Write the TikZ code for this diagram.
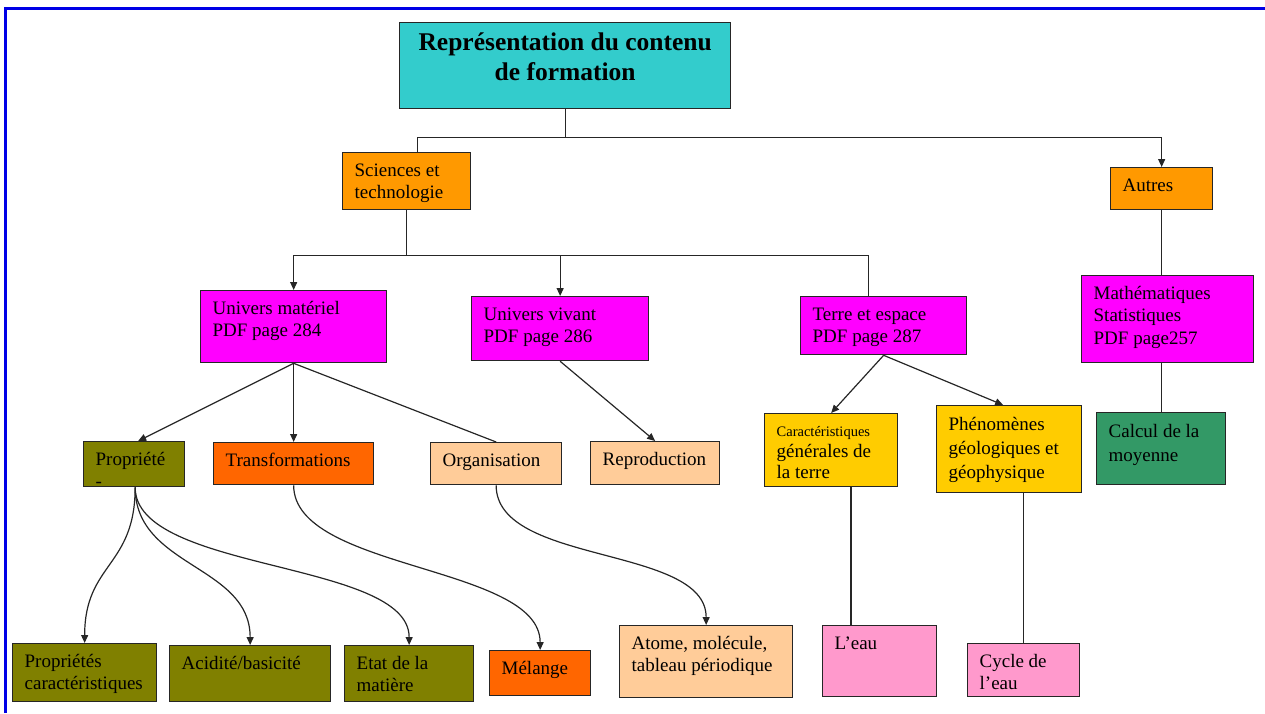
\documentclass[tikz,border=0pt]{standalone}
\usepackage{fontspec}
\setmainfont{Liberation Serif}
\usepackage{xcolor}
\usetikzlibrary{arrows.meta,positioning,calc}
\definecolor{frameblue}{HTML}{0000E6}
\definecolor{titlecyan}{HTML}{33CCCC}
\definecolor{boxorange}{HTML}{FF9900}
\definecolor{boxmagenta}{HTML}{FF00FF}
\definecolor{boxolive}{HTML}{808000}
\definecolor{boxred}{HTML}{FF6600}
\definecolor{boxpeach}{HTML}{FFCC99}
\definecolor{boxyellow}{HTML}{FFCC00}
\definecolor{boxgreen}{HTML}{339966}
\definecolor{boxpink}{HTML}{FF99CC}

\begin{document}
\begin{tikzpicture}[x=1pt,y=-1pt,
  cbox/.style n args={3}{draw=black!85,line width=1.3pt,fill=#1,anchor=north west,
    inner xsep=12pt,inner ysep=8pt,font=\fontsize{19}{22.5}\selectfont,
    execute at begin node={\begin{minipage}[t][\dimexpr#3pt-16pt\relax][t]{\dimexpr#2pt-24pt\relax}\raggedright\strut},
    execute at end node={\end{minipage}}},
  titlebox/.style n args={2}{draw=black!85,line width=1.3pt,fill=titlecyan,anchor=north west,
    inner xsep=6pt,inner ysep=7pt,font=\bfseries\fontsize{25.5}{30}\selectfont,
    execute at begin node={\begin{minipage}[t][\dimexpr#2pt-14pt\relax][t]{\dimexpr#1pt-12pt\relax}\centering\strut},
    execute at end node={\end{minipage}}},
  link/.style={line width=1.2pt,black!85},
  arr/.style={link,-{Triangle[length=8pt,width=7pt]}}
]
\useasboundingbox (0,0) rectangle (1265,713);
\draw[frameblue,line width=3pt] (5,713) -- (5,8) -- (1265,8);

%--- Title and first level ---
\node[titlebox={331}{86}] (title) at (399,22) {Représentation du contenu\\de formation};
\node[cbox={boxorange}{128}{57}] (sci) at (342,152) {Sciences et\\technologie};
\node[cbox={boxorange}{102}{42}] (autres) at (1110,167) {Autres};

%--- Second level ---
\node[cbox={boxmagenta}{186}{72}] (um) at (200,290) {Univers matériel\\PDF page 284};
\node[cbox={boxmagenta}{177}{64}] (uv) at (471,296) {Univers vivant\\PDF page 286};
\node[cbox={boxmagenta}{166}{58}] (terre) at (800,296) {Terre et espace\\PDF page 287};
\node[cbox={boxmagenta}{172}{87}] (math) at (1081,275) {Mathématiques\\Statistiques\\PDF page257};

%--- Third level ---
\node[cbox={boxolive}{101}{45}] (prop) at (83,441) {Propriété\\-};
\node[cbox={boxred}{160}{42}] (trans) at (213,442) {Transformations};
\node[cbox={boxpeach}{131}{42}] (org) at (430,442) {Organisation};
\node[cbox={boxpeach}{129}{43}] (repro) at (590,441) {Reproduction};
\node[cbox={boxyellow}{133}{73},font=\fontsize{19}{21}\selectfont] (caract) at (764,413)
  {{\fontsize{14.5}{16}\selectfont Caractéristiques}\\générales de\\la terre};
\node[cbox={boxyellow}{145}{87},font=\fontsize{19}{24}\selectfont] (phen) at (936,405)
  {Phénomènes\\géologiques et\\géophysique};
\node[cbox={boxgreen}{129}{72},font=\fontsize{19}{24}\selectfont] (calc) at (1096,412)
  {Calcul de la\\moyenne};

%--- Bottom level ---
\node[cbox={boxolive}{144}{58}] (pc) at (12,643) {Propriétés\\caractéristiques};
\node[cbox={boxolive}{161}{56}] (acid) at (169,645) {Acidité/basicité};
\node[cbox={boxolive}{129}{56}] (etat) at (344,645) {Etat de la\\matière};
\node[cbox={boxred}{101}{45}] (mel) at (489,650) {Mélange};
\node[cbox={boxpeach}{173}{72}] (atome) at (619,625) {Atome, molécule,\\tableau périodique};
\node[cbox={boxpink}{114}{71}] (eau) at (822,625) {L’eau};
\node[cbox={boxpink}{112}{53}] (cycle) at (967,643) {Cycle de\\l’eau};

%--- Connectors ---
\draw[link] (title.south) -- ++(0,28) coordinate (j1) -| ([xshift=11pt]sci.north);
\draw[arr] (j1) -| (autres.north);
\draw[link] (sci.south) -- ++(0,45) coordinate (j2);
\draw[arr] (j2) -| (um.north);
\draw[arr] (j2) -| (uv.north);
\draw[link] (j2) -| ([xshift=-15pt]terre.north);
\draw[link] (autres.south) -- (autres.south |- math.north);
\draw[link] (calc.north |- math.south) -- (calc.north);

\draw[arr] (um.south) -- ([xshift=4pt]prop.north);
\draw[arr] (um.south) -- (um.south |- trans.north);
\draw[link] (um.south) -- (org.north);
\draw[arr] (uv.south) -- (repro.north);
\draw[arr] (terre.south) -- (caract.north);
\draw[arr] (terre.south) -- ([xshift=-6pt]phen.north);
\draw[link] (caract.south -| 851,0) -- (eau.north -| 851,0);
\draw[link] (phen.south -| cycle.north) -- (cycle.north);

% curved links to the bottom row
\draw[arr] ([xshift=1pt]prop.south) .. controls +(0,80) and +(0,-80) .. (pc.north);
\draw[arr] ([xshift=1pt]prop.south) .. controls +(0,80) and +(0,-80) .. (acid.north);
\draw[arr] ([xshift=1pt]prop.south) .. controls +(0,85) and +(0,-85) .. (etat.north);
\draw[arr] (trans.south) .. controls +(0,85) and +(0,-85) .. (mel.north);
\draw[arr] (org.south) .. controls +(0,80) and +(0,-80) .. (atome.north);
\end{tikzpicture}
\end{document}
